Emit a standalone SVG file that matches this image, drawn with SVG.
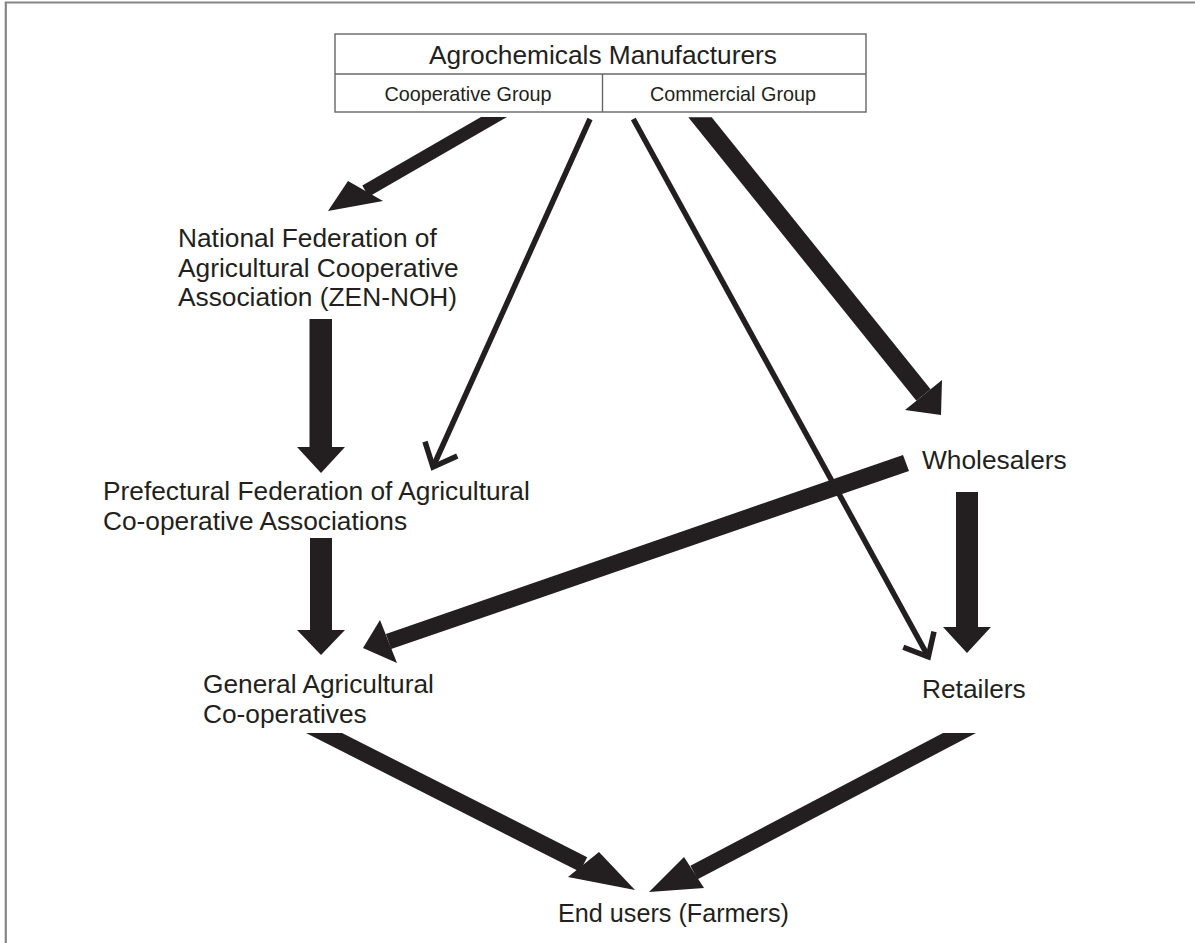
<svg xmlns="http://www.w3.org/2000/svg" width="1195" height="943" viewBox="0 0 1195 943">
<style>
text{font-family:"Liberation Sans",Arial,sans-serif;fill:#231f20}
.lbl{font-size:26.3px}
.sub{font-size:19.8px}
.ar{fill:#231f20;stroke:none}
.thin{stroke:#231f20;stroke-width:5.5;fill:none;stroke-linecap:butt;stroke-linejoin:miter}
.box{fill:#fff;stroke:#666;stroke-width:1.4}
</style>
<rect x="0" y="0" width="1195" height="943" fill="#fff"/>
<path d="M5.8 943 V2.5 H1195" fill="none" stroke="#858585" stroke-width="2.2"/>
<g id="manufacturers">
<rect class="box" x="335" y="34" width="531" height="78"/>
<line x1="335" y1="74" x2="866" y2="74" stroke="#666" stroke-width="1.4"/>
<line x1="602.5" y1="74" x2="602.5" y2="112" stroke="#666" stroke-width="1.4"/>
<text class="lbl" x="603" y="64" text-anchor="middle">Agrochemicals Manufacturers</text>
<text class="sub" x="468" y="101" text-anchor="middle">Cooperative Group</text>
<text class="sub" x="733" y="101" text-anchor="middle">Commercial Group</text>
</g>
<g id="zennoh">
<text class="lbl" x="178" y="247">National Federation of</text>
<text class="lbl" x="178" y="277">Agricultural Cooperative</text>
<text class="lbl" x="178" y="306">Association (ZEN-NOH)</text>
</g>
<g id="prefectural">
<text class="lbl" x="103" y="500">Prefectural Federation of Agricultural</text>
<text class="lbl" x="103" y="530">Co-operative Associations</text>
</g>
<g id="wholesalers">
<text class="lbl" x="922" y="469">Wholesalers</text>
</g>
<g id="general">
<text class="lbl" x="203" y="693">General Agricultural</text>
<text class="lbl" x="203" y="723">Co-operatives</text>
</g>
<g id="retailers">
<text class="lbl" x="922" y="698">Retailers</text>
</g>
<g id="endusers">
<text class="lbl" x="558" y="922" style="font-size:25.2px">End users (Farmers)</text>
</g>
<g id="connectors">
<polygon class="ar" points="481,117 507,117 368.7,196.7 362.3,185.4"/>
<polygon class="ar" points="328,211 348,181 383,201"/>
<line class="thin" x1="590" y1="119" x2="433" y2="467"/>
<path class="thin" d="M457.3 456 L433 467 L425 441.7"/>
<line class="thin" x1="633.3" y1="119" x2="928.3" y2="656.7"/>
<path class="thin" d="M934 631.7 L928.3 656.7 L903.3 647.3"/>
<polygon class="ar" points="688.3,117.3 711.7,117.3 930.6,389.3 916.4,400.7"/>
<polygon class="ar" points="941,415 905,410 942,380"/>
<polygon class="ar" points="903,455 909,471 391.1,649.1 385.9,633.9"/>
<polygon class="ar" points="363,648 380,620 397,663"/>
<rect class="ar" x="956" y="492" width="22" height="136"/>
<polygon class="ar" points="967,653 943,627 991,627"/>
<rect class="ar" x="309.5" y="319" width="22.5" height="129"/>
<polygon class="ar" points="321,473 297,447 345,447"/>
<rect class="ar" x="310" y="538" width="22" height="93"/>
<polygon class="ar" points="321,655 297,630 345,630"/>
<polygon class="ar" points="306,733 342,733 587.2,857.2 579.8,871.8"/>
<polygon class="ar" points="635,890 568,877 599,852"/>
<polygon class="ar" points="943,733 976,733 697.6,879.3 690.4,865.7"/>
<polygon class="ar" points="649,892 684,857 704,888"/>
</g>
</svg>
